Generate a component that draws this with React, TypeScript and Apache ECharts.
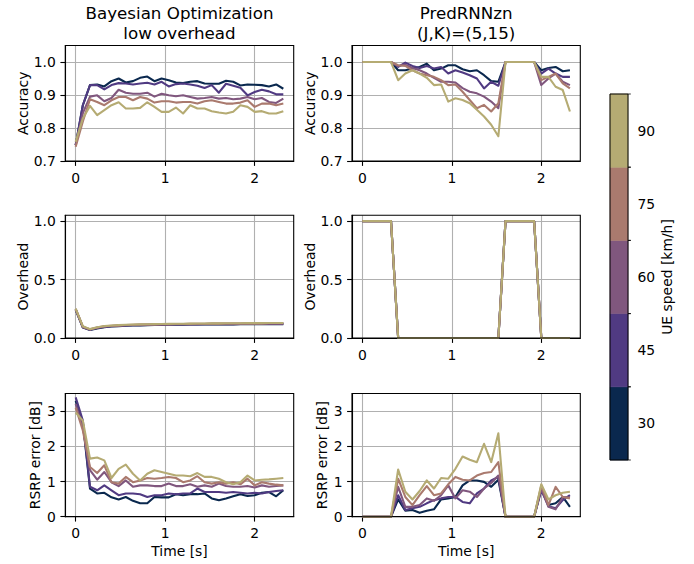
import { useEffect, useRef } from "react";
import * as echarts from "echarts";

const FONT = "DejaVu Sans";

// time axis (s)
const time = [0, 0.08, 0.16, 0.24, 0.32, 0.4, 0.48, 0.56, 0.64, 0.72, 0.8, 0.88, 0.96, 1.04, 1.12, 1.2, 1.28, 1.36, 1.44, 1.52, 1.6, 1.68, 1.76, 1.84, 1.92, 2.0, 2.08, 2.16, 2.24, 2.32];
const xTicks = [0, 1, 2];

// UE speeds (km/h) and colours
const speeds = [30, 45, 60, 75, 90];
const speedColors = ["#0a284e", "#503a82", "#80577e", "#aa7a6e", "#b5ab73"];
const speedBoundaries = [22.5, 37.5, 52.5, 67.5, 82.5, 97.5];

// Bayesian Optimization — accuracy
const boAcc30 = [0.748, 0.869, 0.93, 0.932, 0.926, 0.942, 0.95, 0.938, 0.942, 0.952, 0.956, 0.942, 0.95, 0.945, 0.938, 0.936, 0.94, 0.942, 0.935, 0.934, 0.934, 0.943, 0.94, 0.929, 0.932, 0.931, 0.93, 0.926, 0.932, 0.919];
const boAcc45 = [0.748, 0.869, 0.93, 0.93, 0.917, 0.93, 0.936, 0.935, 0.932, 0.935, 0.937, 0.932, 0.94, 0.926, 0.933, 0.935, 0.932, 0.928, 0.921, 0.93, 0.907, 0.934, 0.928, 0.922, 0.899, 0.909, 0.916, 0.911, 0.902, 0.902];
const boAcc60 = [0.748, 0.845, 0.895, 0.899, 0.881, 0.891, 0.916, 0.907, 0.904, 0.904, 0.907, 0.895, 0.904, 0.899, 0.896, 0.899, 0.894, 0.889, 0.891, 0.894, 0.889, 0.891, 0.887, 0.889, 0.894, 0.887, 0.891, 0.879, 0.876, 0.889];
const boAcc75 = [0.743, 0.82, 0.887, 0.879, 0.869, 0.884, 0.894, 0.894, 0.884, 0.894, 0.889, 0.877, 0.881, 0.881, 0.877, 0.879, 0.879, 0.874, 0.881, 0.884, 0.879, 0.874, 0.874, 0.877, 0.884, 0.864, 0.874, 0.874, 0.869, 0.874];
const boAcc90 = [0.758, 0.829, 0.867, 0.839, 0.854, 0.869, 0.878, 0.859, 0.859, 0.861, 0.878, 0.864, 0.849, 0.849, 0.862, 0.844, 0.869, 0.859, 0.859, 0.851, 0.847, 0.844, 0.849, 0.869, 0.864, 0.849, 0.851, 0.844, 0.844, 0.851];

// PredRNNzn — accuracy
const prAcc30 = [1, 1, 1, 1, 1, 0.975, 0.975, 0.98, 0.985, 0.995, 0.975, 0.98, 0.99, 0.99, 0.978, 0.972, 0.975, 0.96, 0.942, 0.94, 1, 1, 1, 1, 1, 0.975, 0.982, 0.985, 0.972, 0.975];
const prAcc45 = [1, 1, 1, 1, 1, 0.985, 0.998, 0.988, 0.982, 0.988, 0.98, 0.985, 0.965, 0.975, 0.968, 0.96, 0.95, 0.92, 0.94, 0.928, 1, 1, 1, 1, 1, 0.965, 0.98, 0.965, 0.955, 0.955];
const prAcc60 = [1, 1, 1, 1, 1, 0.988, 0.992, 0.982, 0.975, 0.965, 0.952, 0.94, 0.94, 0.938, 0.921, 0.91, 0.905, 0.895, 0.88, 0.86, 1, 1, 1, 1, 1, 0.93, 0.95, 0.965, 0.94, 0.93];
const prAcc75 = [1, 1, 1, 1, 1, 0.99, 0.988, 0.975, 0.965, 0.96, 0.955, 0.945, 0.93, 0.932, 0.91, 0.885, 0.86, 0.87, 0.85, 0.875, 1, 1, 1, 1, 1, 0.945, 0.955, 0.965, 0.935, 0.92];
const prAcc90 = [1, 1, 1, 1, 1, 0.945, 0.965, 0.975, 0.965, 0.952, 0.93, 0.932, 0.88, 0.89, 0.885, 0.875, 0.855, 0.835, 0.81, 0.775, 1, 1, 1, 1, 1, 0.955, 0.955, 0.925, 0.915, 0.85];

// Bayesian Optimization — overhead
const boOvh30 = [0.24, 0.09, 0.068, 0.082, 0.092, 0.098, 0.102, 0.105, 0.107, 0.108, 0.11, 0.111, 0.112, 0.113, 0.113, 0.114, 0.115, 0.115, 0.116, 0.116, 0.117, 0.117, 0.117, 0.118, 0.118, 0.118, 0.119, 0.119, 0.119, 0.119];
const boOvh45 = [0.245, 0.092, 0.07, 0.085, 0.095, 0.1, 0.104, 0.107, 0.109, 0.11, 0.112, 0.113, 0.114, 0.115, 0.115, 0.116, 0.117, 0.117, 0.118, 0.118, 0.119, 0.119, 0.119, 0.12, 0.12, 0.12, 0.121, 0.121, 0.121, 0.121];
const boOvh60 = [0.248, 0.095, 0.072, 0.088, 0.098, 0.103, 0.106, 0.109, 0.111, 0.113, 0.114, 0.115, 0.116, 0.117, 0.118, 0.118, 0.119, 0.12, 0.12, 0.121, 0.121, 0.122, 0.122, 0.122, 0.123, 0.123, 0.123, 0.124, 0.124, 0.124];
const boOvh75 = [0.25, 0.097, 0.074, 0.09, 0.1, 0.105, 0.108, 0.111, 0.113, 0.115, 0.116, 0.117, 0.118, 0.119, 0.12, 0.12, 0.121, 0.122, 0.122, 0.123, 0.123, 0.124, 0.124, 0.124, 0.125, 0.125, 0.125, 0.126, 0.126, 0.126];
const boOvh90 = [0.252, 0.1, 0.076, 0.092, 0.102, 0.107, 0.11, 0.113, 0.115, 0.117, 0.118, 0.119, 0.12, 0.121, 0.122, 0.122, 0.123, 0.124, 0.124, 0.125, 0.125, 0.126, 0.126, 0.126, 0.127, 0.127, 0.127, 0.128, 0.128, 0.128];

// PredRNNzn — overhead (identical for every speed)
const prOverhead = [1, 1, 1, 1, 1, 0, 0, 0, 0, 0, 0, 0, 0, 0, 0, 0, 0, 0, 0, 0, 1, 1, 1, 1, 1, 0, 0, 0, 0, 0];

// Bayesian Optimization — RSRP error (dB)
const boRsrp30 = [3.29, 2.68, 0.8, 0.66, 0.68, 0.55, 0.49, 0.56, 0.45, 0.38, 0.38, 0.56, 0.55, 0.55, 0.64, 0.61, 0.64, 0.64, 0.66, 0.52, 0.47, 0.52, 0.58, 0.64, 0.59, 0.61, 0.68, 0.7, 0.58, 0.75];
const boRsrp45 = [3.39, 2.73, 0.85, 0.75, 0.89, 0.75, 0.61, 0.66, 0.66, 0.64, 0.56, 0.61, 0.61, 0.66, 0.64, 0.66, 0.66, 0.8, 0.7, 0.7, 0.7, 0.68, 0.7, 0.68, 0.66, 0.68, 0.66, 0.7, 0.73, 0.75];
const boRsrp60 = [3.2, 2.54, 1.32, 1.05, 1.27, 0.98, 0.87, 1.03, 0.85, 0.89, 0.89, 0.87, 0.87, 0.94, 0.87, 0.87, 0.92, 0.85, 0.89, 0.85, 0.94, 0.87, 0.85, 0.85, 0.87, 0.83, 0.89, 0.85, 0.87, 0.89];
const boRsrp75 = [3.1, 2.45, 1.41, 1.24, 1.46, 0.98, 0.94, 1.13, 0.98, 1.03, 1.1, 1.08, 1.1, 1.13, 1.1, 0.98, 1.03, 1.15, 0.98, 0.94, 0.98, 0.94, 0.98, 0.92, 1.08, 0.89, 0.98, 0.94, 0.91, 0.89];
const boRsrp90 = [2.96, 2.73, 1.65, 1.68, 1.6, 1.1, 1.36, 1.48, 1.22, 1.03, 1.22, 1.32, 1.27, 1.22, 1.17, 1.17, 1.15, 1.24, 1.13, 1.13, 1.08, 0.98, 0.92, 0.98, 1.17, 1.03, 1.05, 1.06, 1.08, 1.1];

// PredRNNzn — RSRP error (dB)
const prRsrp30 = [0, 0, 0, 0, 0, 0.49, 0.17, 0.19, 0.11, 0.17, 0.21, 0.49, 0.52, 0.56, 0.89, 1.03, 1.03, 0.99, 0.85, 1.05, 0, 0, 0, 0, 0, 0.8, 0.33, 0.38, 0.56, 0.28];
const prRsrp45 = [0, 0, 0, 0, 0, 0.61, 0.19, 0.24, 0.28, 0.38, 0.47, 0.52, 0.56, 0.56, 0.42, 0.38, 0.66, 0.8, 1.03, 1.13, 0, 0, 0, 0, 0, 0.75, 0.3, 0.24, 0.47, 0.61];
const prRsrp60 = [0, 0, 0, 0, 0, 0.85, 0.28, 0.28, 0.33, 0.52, 0.45, 0.61, 0.89, 0.52, 0.75, 0.71, 0.56, 0.8, 0.96, 1.17, 0, 0, 0, 0, 0, 0.8, 0.28, 0.21, 0.56, 0.55];
const prRsrp75 = [0, 0, 0, 0, 0, 1.08, 0.56, 0.33, 0.61, 0.87, 0.61, 0.66, 0.92, 1.13, 1.05, 1.03, 1.17, 1.24, 1.27, 1.55, 0, 0, 0, 0, 0, 0.89, 0.33, 0.85, 0.56, 0.52];
const prRsrp90 = [0, 0, 0, 0, 0, 1.34, 0.71, 0.49, 0.73, 1.03, 0.8, 1.1, 1.08, 1.36, 1.71, 1.62, 1.55, 2.07, 1.55, 2.37, 0, 0, 0, 0, 0, 0.92, 0.49, 0.61, 0.68, 0.71];

const accTicks = [0.7, 0.8, 0.9, 1.0];
const ovhTicks = [0, 0.5, 1.0];
const rsrpTicks = [0, 1, 2, 3];

const panelSeries = [
  [boAcc30, boAcc45, boAcc60, boAcc75, boAcc90],
  [prAcc30, prAcc45, prAcc60, prAcc75, prAcc90],
  [boOvh30, boOvh45, boOvh60, boOvh75, boOvh90],
  [prOverhead, prOverhead, prOverhead, prOverhead, prOverhead],
  [boRsrp30, boRsrp45, boRsrp60, boRsrp75, boRsrp90],
  [prRsrp30, prRsrp45, prRsrp60, prRsrp75, prRsrp90],
];

const yAxisSpecs = [
  { min: 0.7, max: 1.05, ticks: accTicks, fmt: (v: number) => v.toFixed(1) },
  { min: 0, max: 1.05, ticks: ovhTicks, fmt: (v: number) => v.toFixed(1) },
  { min: 0, max: 3.5, ticks: rsrpTicks, fmt: (v: number) => String(v) },
];

const colL = { left: 65.3, width: 228.4 };
const colR = { left: 352, width: 228.3 };
const rows = [
  { top: 45.5, height: 115.5 },
  { top: 215.3, height: 122.7 },
  { top: 393.5, height: 123.2 },
];

const TICK = 13.9;
const TITLE = 16.7;

function text(t: string, x: number, y: number, size: number, rotation = 0, lineHeight?: number) {
  return {
    type: "text",
    x,
    y,
    rotation,
    silent: true,
    style: {
      text: t,
      fill: "#000",
      fontSize: size,
      fontFamily: FONT,
      lineHeight: lineHeight ?? Math.round(size * 1.2),
      align: "center",
      textAlign: "center",
      verticalAlign: "middle",
      textVerticalAlign: "middle",
    },
  };
}

function buildOption() {
  const grid: any[] = [];
  const xAxis: any[] = [];
  const yAxis: any[] = [];
  const series: any[] = [];

  for (let p = 0; p < 6; p++) {
    const r = Math.floor(p / 2);
    const col = p % 2 === 0 ? colL : colR;
    grid.push({
      left: col.left,
      width: col.width,
      top: rows[r].top,
      height: rows[r].height,
      show: true,
      borderColor: "#000",
      borderWidth: 1.1,
      backgroundColor: "transparent",
      z: 5,
    });
    xAxis.push({
      type: "value",
      gridIndex: p,
      min: -0.116,
      max: 2.436,
      axisLine: { show: true, onZero: false, lineStyle: { color: "#000", width: 1.1 } },
      axisTick: { show: true, length: 4.9, customValues: xTicks, lineStyle: { color: "#000", width: 1.1 } },
      axisLabel: {
        customValues: xTicks,
        margin: 9.5,
        color: "#000",
        fontSize: TICK,
        fontFamily: FONT,
        formatter: (v: number) => String(v),
      },
      splitLine: { show: true, lineStyle: { color: "#b0b0b0", width: 1.1 } },
    });
    const ys = yAxisSpecs[r];
    yAxis.push({
      type: "value",
      gridIndex: p,
      min: ys.min,
      max: ys.max,
      axisLine: { show: true, onZero: false, lineStyle: { color: "#000", width: 1.1 } },
      axisTick: { show: true, length: 4.9, customValues: ys.ticks, lineStyle: { color: "#000", width: 1.1 } },
      axisLabel: {
        customValues: ys.ticks,
        margin: 9.5,
        color: "#000",
        fontSize: TICK,
        fontFamily: FONT,
        formatter: ys.fmt,
      },
      splitLine: { show: true, lineStyle: { color: "#b0b0b0", width: 1.1 } },
    });
    panelSeries[p].forEach((vals, k) => {
      series.push({
        type: "line",
        name: `${speeds[k]} km/h`,
        xAxisIndex: p,
        yAxisIndex: p,
        data: time.map((t, i) => [t, vals[i]]),
        symbol: "none",
        showSymbol: false,
        clip: true,
        lineStyle: { color: speedColors[k], width: 2.1, join: "round", cap: "butt" },
        itemStyle: { color: speedColors[k] },
        z: 2,
      });
    });
  }

  // colour bar
  grid.push({
    left: 610,
    top: 94,
    width: 18,
    height: 366,
    show: true,
    borderColor: "#000",
    borderWidth: 1,
    backgroundColor: "transparent",
    z: 5,
  });
  xAxis.push({ type: "value", gridIndex: 6, min: 0, max: 1, show: false });
  yAxis.push({
    type: "value",
    gridIndex: 6,
    position: "right",
    min: speedBoundaries[0],
    max: speedBoundaries[speedBoundaries.length - 1],
    axisLine: { show: false },
    axisTick: { show: true, length: 4.9, customValues: speeds, lineStyle: { color: "#000", width: 1.1 } },
    axisLabel: {
      customValues: speeds,
      margin: 9.5,
      color: "#000",
      fontSize: TICK,
      fontFamily: FONT,
      formatter: (v: number) => String(v),
    },
    splitLine: { show: false },
  });
  series.push({
    type: "custom",
    xAxisIndex: 6,
    yAxisIndex: 6,
    z: 1,
    data: speeds.map((s, k) => [s, k]),
    renderItem: (_params: any, api: any) => {
      const k = api.value(1);
      const lo = speedBoundaries[k];
      const hi = speedBoundaries[k + 1];
      const tl = api.coord([0, hi]);
      const br = api.coord([1, lo]);
      const color = speedColors[k];
      return {
        type: "group",
        children: [
          {
            type: "rect",
            shape: { x: tl[0], y: tl[1], width: br[0] - tl[0], height: br[1] - tl[1] },
            style: { fill: color, stroke: color, lineWidth: 0.6 },
          },
          {
            type: "line",
            shape: { x1: br[0], y1: tl[1], x2: br[0] + 2.8, y2: tl[1] },
            style: { stroke: "#000", lineWidth: 0.8 },
          },
          {
            type: "line",
            shape: { x1: br[0], y1: br[1], x2: br[0] + 2.8, y2: br[1] },
            style: { stroke: "#000", lineWidth: 0.8 },
          },
        ],
      };
    },
  });

  const cxL = colL.left + colL.width / 2;
  const cxR = colR.left + colR.width / 2;
  const rowMid = rows.map((r) => r.top + r.height / 2);
  const rot = Math.PI / 2;

  const graphic = [
    text("Bayesian Optimization\nlow overhead", cxL, 23, TITLE, 0, 20),
    text("PredRNNzn\n(J,K)=(5,15)", cxR, 23, TITLE, 0, 20),
    text("Accuracy", 23.3, rowMid[0], TICK, rot),
    text("Overhead", 23.3, rowMid[1], TICK, rot),
    text("RSRP error [dB]", 35.3, rowMid[2], TICK, rot),
    text("Accuracy", 310, rowMid[0], TICK, rot),
    text("Overhead", 310, rowMid[1], TICK, rot),
    text("RSRP error [dB]", 322, rowMid[2], TICK, rot),
    text("Time [s]", cxL, 551, TICK),
    text("Time [s]", cxR, 551, TICK),
    text("UE speed [km/h]", 667, 277, TICK, rot),
  ];

  return {
    animation: false,
    backgroundColor: "#fff",
    textStyle: { fontFamily: FONT },
    grid,
    xAxis,
    yAxis,
    series,
    graphic,
  };
}

export default function App() {
  const ref = useRef<HTMLDivElement>(null);
  useEffect(() => {
    document.body.style.margin = "0";
    const chart = echarts.init(ref.current!, null, { renderer: "svg" });
    chart.setOption(buildOption() as any);
    return () => chart.dispose();
  }, []);
  return <div ref={ref} style={{ width: 694, height: 564 }} />;
}
